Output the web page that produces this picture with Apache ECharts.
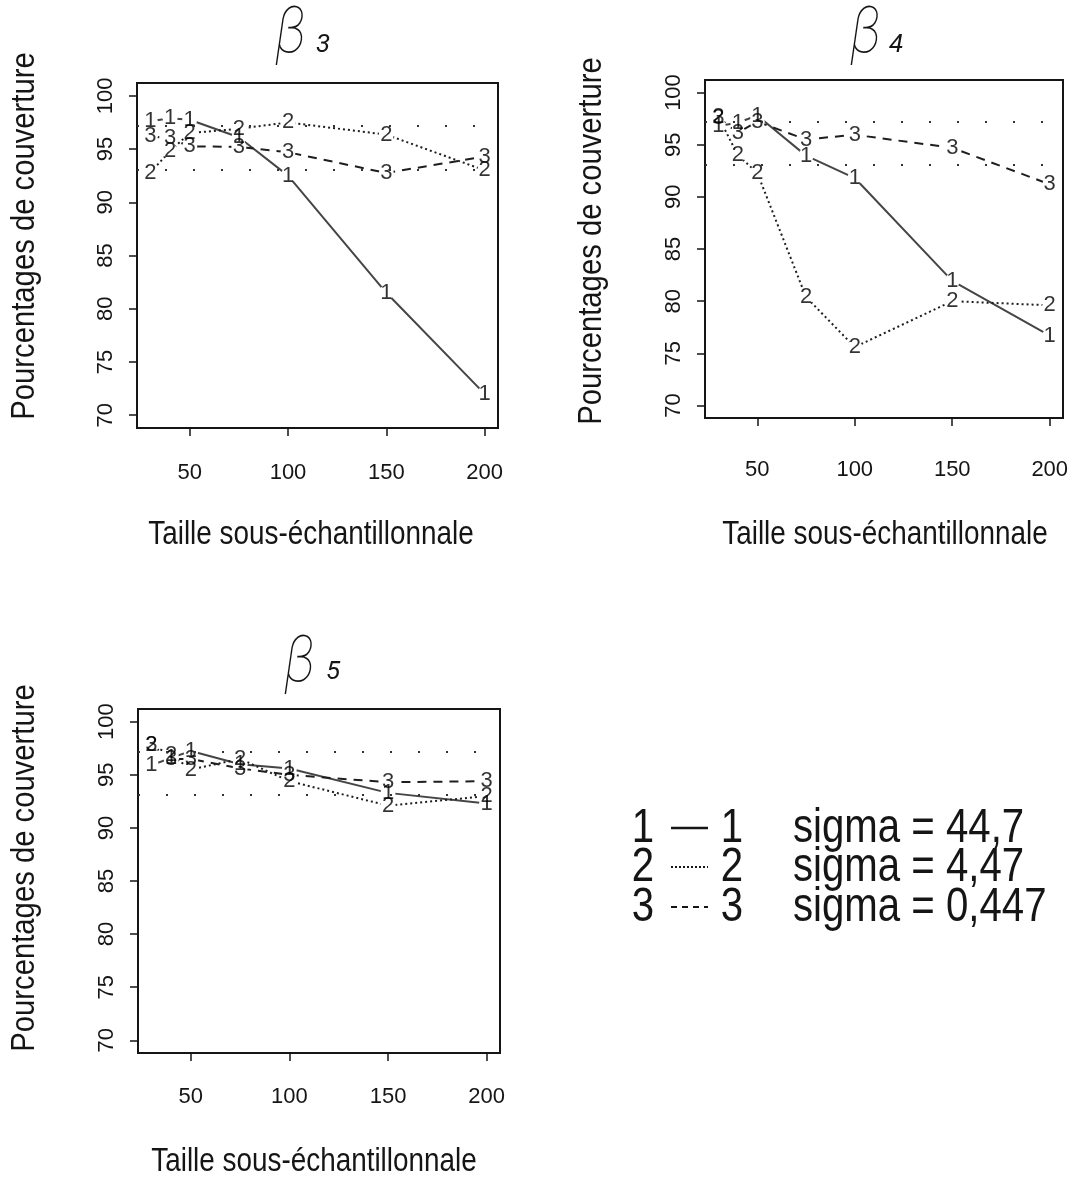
<!DOCTYPE html>
<html>
<head>
<meta charset="utf-8">
<script src="https://cdn.jsdelivr.net/npm/echarts@6/dist/echarts.min.js"></script>
<style>
  html, body { margin: 0; padding: 0; background: #fff; }
  #chart { width: 1081px; height: 1181px; }
</style>
</head>
<body>
<div id="chart"></div>
<script>
// Sub-sample sizes (x axis)
const sizes = [30, 40, 50, 75, 100, 150, 200];

// Coverage percentages, one array per sigma level, for each coefficient
const beta3_sigma1 = [97.6, 97.9, 97.75, 96.1, 92.5, 81.5, 72.0];
const beta3_sigma2 = [92.8, 94.8, 96.5, 96.9, 97.5, 96.35, 93.0];
const beta3_sigma3 = [96.2, 96.0, 95.25, 95.2, 94.7, 92.75, 94.3];

const beta4_sigma1 = [96.8, 97.1, 97.8, 93.95, 91.8, 81.95, 76.7];
const beta4_sigma2 = [97.7, 94.0, 92.3, 80.4, 75.6, 80.0, 79.6];
const beta4_sigma3 = [97.6, 96.15, 97.2, 95.5, 95.95, 94.7, 91.2];

const beta5_sigma1 = [95.9, 96.6, 97.25, 96.0, 95.6, 93.3, 92.3];
const beta5_sigma2 = [97.8, 96.9, 95.5, 96.5, 94.4, 92.1, 93.0];
const beta5_sigma3 = [97.8, 96.5, 96.5, 95.6, 95.0, 94.3, 94.4];

// Tick labels
const xTicks = [50, 100, 150, 200];
const yTicks = [70, 75, 80, 85, 90, 95, 100];

// Nominal coverage band drawn as dotted horizontal lines
const bandLevels = [97.2, 93.1];

// Panel titles (subscripts of beta) and legend entries
const panelSubscripts = ['3', '4', '5'];
const seriesDigits = ['1', '2', '3'];
const legendLabels = ['sigma = 44,7', 'sigma = 4,47', 'sigma = 0,447'];
const xAxisTitle = 'Taille sous-échantillonnale';
const yAxisTitle = 'Pourcentages de couverture';

const panels = [
  [beta3_sigma1, beta3_sigma2, beta3_sigma3],
  [beta4_sigma1, beta4_sigma2, beta4_sigma3],
  [beta5_sigma1, beta5_sigma2, beta5_sigma3]
];

// ---- styling ----
const SANS = "'Liberation Sans', Arial, sans-serif";
const NARROW_SCALE = 0.82;          // narrow Helvetica look
const INK = '#151515';
const lineStyles = [
  { color: '#454545', width: 2, type: 'solid' },
  { color: '#1e1e1e', width: 2, type: [2, 3] },
  { color: '#1e1e1e', width: 2, type: [9, 7] }
];

const gridBoxes = [
  { left: 137, top: 83, width: 361, height: 345 },
  { left: 705, top: 80, width: 358, height: 338 },
  { left: 138, top: 709, width: 362, height: 344 }
];
const xLabelMargins = [34, 41, 33];

const X_MIN = 23.2, X_MAX = 206.8;   // 30..200 padded by 4%
const Y_MIN = 68.8, Y_MAX = 101.2;   // 70..100 padded by 4%

const grid = gridBoxes.map(b => Object.assign({
  show: true, borderColor: INK, borderWidth: 2, backgroundColor: 'transparent'
}, b));

const xAxis = gridBoxes.map((b, i) => ({
  type: 'value', gridIndex: i, min: X_MIN, max: X_MAX,
  axisLine: { show: false },
  splitLine: { show: false },
  axisTick: { show: true, customValues: xTicks, length: 8,
              lineStyle: { color: INK, width: 1.5 } },
  axisLabel: { show: true, customValues: xTicks, margin: xLabelMargins[i],
               fontFamily: SANS, fontSize: 22, color: INK }
}));

const yAxis = gridBoxes.map((b, i) => ({
  type: 'value', gridIndex: i, min: Y_MIN, max: Y_MAX,
  axisLine: { show: false },
  splitLine: { show: false },
  axisTick: { show: true, customValues: yTicks, length: 8,
              lineStyle: { color: INK, width: 1.5 } },
  axisLabel: { show: true, customValues: yTicks, rotate: 90, margin: 20,
               fontFamily: SANS, fontSize: 22, color: INK }
}));

const series = [];
panels.forEach((sets, p) => {
  // connecting lines
  sets.forEach((vals, k) => {
    const s = {
      type: 'line', xAxisIndex: p, yAxisIndex: p, z: 2,
      data: sizes.map((x, j) => [x, vals[j]]),
      symbol: 'none', showSymbol: false, silent: true,
      lineStyle: lineStyles[k]
    };
    if (k === 0) {
      s.markLine = {
        silent: true, symbol: 'none', label: { show: false },
        lineStyle: { color: '#333', width: 2.2, type: [2, 26] },
        data: bandLevels.map(v => ({ yAxis: v }))
      };
    }
    series.push(s);
  });
  // blank disc around each plotted digit (breaks the line at the point)
  sets.forEach((vals) => {
    series.push({
      type: 'scatter', xAxisIndex: p, yAxisIndex: p, z: 3, silent: true,
      data: sizes.map((x, j) => [x, vals[j]]),
      symbol: 'circle', symbolSize: 15,
      itemStyle: { color: '#ffffff', opacity: 1 }
    });
  });
  // plotted digits
  sets.forEach((vals, k) => {
    series.push({
      type: 'scatter', xAxisIndex: p, yAxisIndex: p, z: 4, silent: true,
      data: sizes.map((x, j) => [x, vals[j]]),
      symbol: 'circle', symbolSize: 1,
      itemStyle: { color: 'rgba(0,0,0,0)' },
      label: { show: true, position: 'inside', formatter: seriesDigits[k],
               fontFamily: SANS, fontSize: 22, color: '#000' }
    });
  });
});

const graphic = [];

// axis titles, set in a narrow sans
const xTitleSpots = [[311, 535], [885, 535], [314, 1162]];
const yTitleSpots = [[25, 236], [592, 241], [25, 868]];
xTitleSpots.forEach(([x, y]) => {
  graphic.push({ type: 'text', x, y, scaleX: NARROW_SCALE, silent: true,
    style: { text: xAxisTitle, font: '34px ' + SANS, fill: INK,
             textAlign: 'center', textVerticalAlign: 'middle' } });
});
yTitleSpots.forEach(([x, y]) => {
  graphic.push({ type: 'text', x, y, rotation: Math.PI / 2, scaleX: 0.86, silent: true,
    style: { text: yAxisTitle, font: '34px ' + SANS, fill: INK,
             textAlign: 'center', textVerticalAlign: 'middle' } });
});

// panel titles: beta with subscript
const titleSpots = [
  { bx: 291, by: 36, sx: 323, sy: 45 },
  { bx: 866, by: 36, sx: 896, sy: 45 },
  { bx: 300, by: 665, sx: 333, sy: 672 }
];
titleSpots.forEach((t, i) => {
  graphic.push({
    type: 'text', x: t.bx, y: t.by, scaleX: 0.85, silent: true,
    style: { text: 'β', font: "italic 100 64px Roboto, 'DejaVu Sans'", fill: INK,
             textAlign: 'center', textVerticalAlign: 'middle' }
  });
  graphic.push({
    type: 'text', x: t.sx, y: t.sy, silent: true,
    style: { text: panelSubscripts[i], font: "italic 400 26px Roboto, " + SANS, fill: INK,
             textAlign: 'center', textVerticalAlign: 'middle' }
  });
});

// legend block
const rowY = [828, 867, 907];
const dashes = [null, [2, 2], [6, 5]];
legendLabels.forEach((txt, i) => {
  const font = '49px ' + SANS;
  graphic.push({ type: 'text', x: 643, y: rowY[i], scaleX: NARROW_SCALE, silent: true,
    style: { text: seriesDigits[i], font, fill: INK, textAlign: 'center', textVerticalAlign: 'middle' } });
  graphic.push({ type: 'line', silent: true,
    shape: { x1: 671, y1: rowY[i], x2: 708, y2: rowY[i] },
    style: { stroke: INK, lineWidth: i === 0 ? 2.5 : 2, lineDash: dashes[i] } });
  graphic.push({ type: 'text', x: 732, y: rowY[i], scaleX: NARROW_SCALE, silent: true,
    style: { text: seriesDigits[i], font, fill: INK, textAlign: 'center', textVerticalAlign: 'middle' } });
  graphic.push({ type: 'text', x: 793, y: rowY[i], scaleX: NARROW_SCALE, silent: true,
    style: { text: txt, font, fill: INK, textAlign: 'left', textVerticalAlign: 'middle' } });
});

const chart = echarts.init(document.getElementById('chart'), null, { renderer: 'canvas' });
chart.setOption({
  backgroundColor: '#ffffff',
  animation: false,
  grid, xAxis, yAxis, series, graphic
});
</script>
</body>
</html>
